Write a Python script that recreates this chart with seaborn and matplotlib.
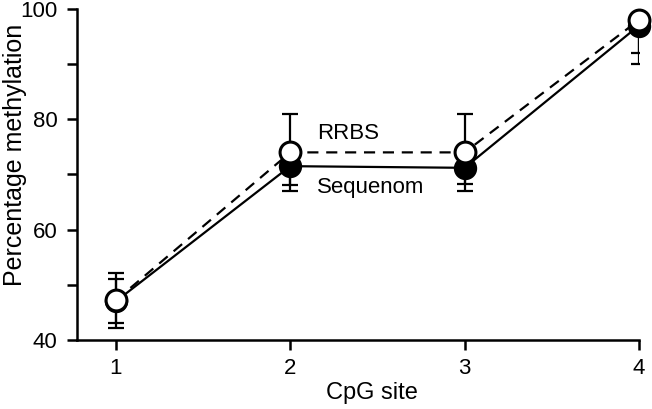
import matplotlib
matplotlib.use("Agg")
import matplotlib.pyplot as plt
import seaborn as sns
import pandas as pd

sites = [1, 2, 3, 4]
sequenom = [47.0, 71.5, 71.2, 97.0]
sequenom_err = [4.0, 3.5, 3.0, 5.0]
rrbs = [47.2, 74.0, 74.0, 98.0]
rrbs_err = [5.0, 7.0, 7.0, 8.0]

sns.set_theme(style="ticks")
plt.rcParams['font.family'] = ['Liberation Sans', 'DejaVu Sans']
plt.rcParams['text.color'] = 'black'
plt.rcParams['axes.labelcolor'] = 'black'

fig = plt.figure(figsize=(6.52, 4.09), dpi=100)
ax = fig.add_axes([0.118, 0.169, 0.862, 0.809])

df_s = pd.DataFrame({"site": sites, "val": sequenom})
df_r = pd.DataFrame({"site": sites, "val": rrbs})

# Sequenom (filled, solid)
ax.errorbar(sites, sequenom, yerr=sequenom_err, fmt='none', ecolor='black',
            elinewidth=1.6, capsize=5.5, capthick=1.6, zorder=2, clip_on=True)
sns.lineplot(data=df_s, x="site", y="val", ax=ax, color='black', linewidth=1.6,
             marker='o', markersize=15, markerfacecolor='black',
             markeredgecolor='black', markeredgewidth=1.8, zorder=3, clip_on=False)

# RRBS (open, dashed)
ax.errorbar(sites, rrbs, yerr=rrbs_err, fmt='none', ecolor='black',
            elinewidth=1.6, capsize=5.5, capthick=1.6, zorder=4, clip_on=True)
sns.lineplot(data=df_r, x="site", y="val", ax=ax, color='black', linewidth=1.6,
             linestyle=(0, (5, 3.5)), marker='o', markersize=15,
             markerfacecolor='white', markeredgecolor='black',
             markeredgewidth=2.2, zorder=5, clip_on=False)

ax.text(2.155, 77.5, "RRBS", fontsize=16, ha='left', va='center')
ax.text(2.155, 67.6, "Sequenom", fontsize=16, ha='left', va='center')

ax.set_xlim(0.776, 4.0)
ax.set_ylim(40, 100)
ax.set_xticks(sites)
ax.set_xticklabels([str(s) for s in sites])
ax.set_yticks([40, 50, 60, 70, 80, 90, 100])
ax.set_yticklabels(["40", "", "60", "", "80", "", "100"])
ax.set_xlabel("CpG site", fontsize=17)
ax.set_ylabel("Percentage methylation", fontsize=18)
ax.xaxis.set_label_coords(0.525, -0.128)
ax.yaxis.set_label_coords(-0.088, 0.559)

for side in ['top', 'right']:
    ax.spines[side].set_visible(False)
for side in ['left', 'bottom']:
    ax.spines[side].set_linewidth(1.8)
    ax.spines[side].set_color('black')
ax.tick_params(axis='both', direction='out', length=7, width=1.8, labelsize=16,
               colors='black')
ax.tick_params(axis='y', pad=7)
ax.tick_params(axis='x', pad=6)
ax.grid(False)
if ax.get_legend():
    ax.get_legend().remove()

fig.savefig("out.png", dpi=100)
